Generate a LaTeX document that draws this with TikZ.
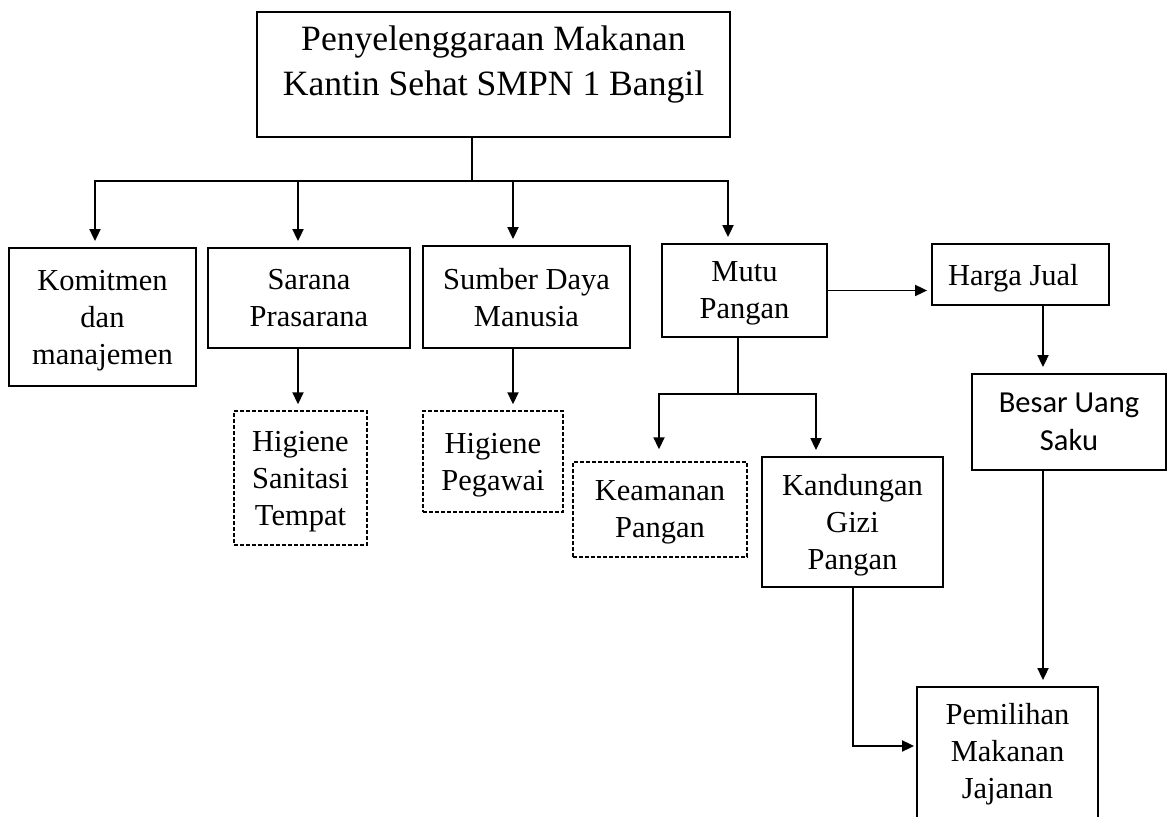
\documentclass[tikz,border=0pt]{standalone}
\usepackage{fontspec}
\setmainfont{Liberation Serif}
\newfontfamily\calibrifont{Carlito}
\usetikzlibrary{arrows.meta}

\begin{document}
\begin{tikzpicture}[x=0.5pt, y=-0.5pt, line width=0.9pt,
  box/.style={draw, line width=0.9pt, inner sep=0pt, align=center, text depth=0pt,
    font=\fontsize{15.25}{18.5}\selectfont},
  dbox/.style={box, line width=0.7pt, dash pattern=on 2pt off 1pt},
  arr/.style={-{Triangle[length=6pt, width=5.5pt]}, shorten >=3pt}]
  \useasboundingbox (0,0) rectangle (1169,817);
  \clip (0,0) rectangle (1169,817);

  % Judul
  \node[box, minimum width=236.5pt, minimum height=62.5pt, text depth=14pt,
    font=\fontsize{17.8}{22.5}\selectfont] (judul) at (493.5,74.5)
    {Penyelenggaraan Makanan\\Kantin Sehat SMPN 1 Bangil};

  % Faktor utama
  \node[box, minimum width=93.5pt, minimum height=69pt] (komit) at (102.5,317) {Komitmen\\dan\\manajemen};
  \node[box, minimum width=101pt, minimum height=50pt] (sarana) at (309,298) {Sarana\\Prasarana};
  \node[box, minimum width=103.5pt, minimum height=51pt] (sdm) at (526.5,297) {Sumber Daya\\Manusia};
  \node[box, minimum width=82.5pt, minimum height=46.5pt] (mutu) at (744.5,290.5) {Mutu\\Pangan};
  \node[box, minimum width=88.5pt, minimum height=30.5pt, text width=72.5pt, inner xsep=8pt,
    align=flush left] (harga) at (1020.5,274.5) {Harga Jual};
  \node[box, minimum width=97pt, minimum height=48pt,
    font=\calibrifont\fontsize{15.25}{19}\selectfont] (uang) at (1069,422) {Besar Uang\\Saku};

  % Sub faktor
  \node[dbox, minimum width=66.5pt, minimum height=67pt] (hst) at (300.5,478) {Higiene\\Sanitasi\\Tempat};
  \node[dbox, minimum width=70pt, minimum height=50.5pt] (hp) at (493,461.5) {Higiene\\Pegawai};
  \node[dbox, minimum width=87pt, minimum height=47.5pt] (aman) at (660,509.5) {Keamanan\\Pangan};
  \node[box, minimum width=90.5pt, minimum height=65pt] (gizi) at (852.5,522) {Kandungan\\Gizi\\Pangan};
  \node[box, minimum width=90.5pt, minimum height=73pt, text depth=9pt] (pilih) at (1007.5,760) {Pemilihan\\Makanan\\Jajanan};

  % Garis cabang
  \coordinate (bus) at (472,181);
  \coordinate (b1) at (95,181);
  \coordinate (b2) at (298,181);
  \coordinate (b3) at (513,181);
  \coordinate (b4) at (728,181);
  \draw (judul.south -| bus) -- (bus);
  \draw[arr] (bus) -- (b1) -- (komit.north -| b1);
  \draw[arr] (bus) -- (b4) -- (mutu.north -| b4);
  \draw[arr] (b2) -- (sarana.north -| b2);
  \draw[arr] (b3) -- (sdm.north -| b3);
  \draw[arr] (sarana.south -| b2) -- (hst.north -| b2);
  \draw[arr] (sdm.south -| b3) -- (hp.north -| b3);

  % Mutu pangan
  \coordinate (m0) at (738,394);
  \coordinate (m1) at (659,394);
  \coordinate (m2) at (816,394);
  \draw (mutu.south -| m0) -- (m0);
  \draw[arr, shorten >=6pt] (m0) -- (m1) -- (aman.north -| m1);
  \draw[arr] (m0) -- (m2) -- (gizi.north -| m2);
  \draw[arr, shorten >=2pt] (mutu.east) -- (harga.west |- mutu.east);

  % Ke pemilihan makanan
  \coordinate (h0) at (1043,0);
  \coordinate (k1) at (853,746);
  \draw[arr] (harga.south -| h0) -- (uang.north -| h0);
  \draw[arr] (uang.south -| h0) -- (pilih.north -| h0);
  \draw[arr, shorten >=1pt] (gizi.south -| k1) -- (k1) -- (pilih.west |- k1);
\end{tikzpicture}
\end{document}
